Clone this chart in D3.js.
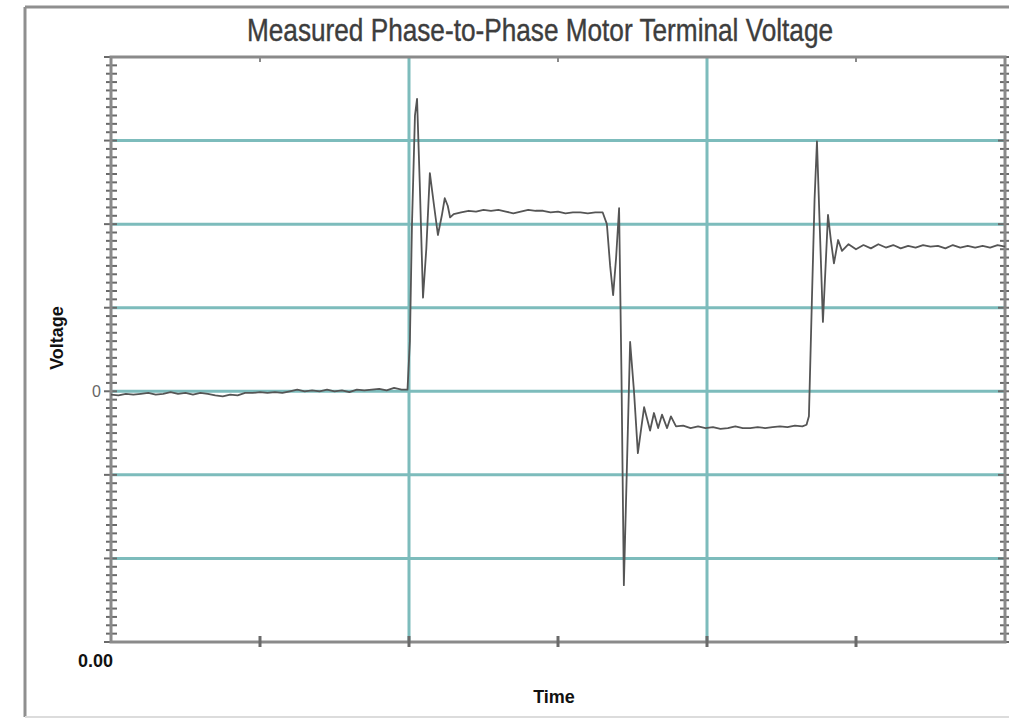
<!DOCTYPE html>
<html>
<head>
<meta charset="utf-8">
<script src="https://cdn.jsdelivr.net/npm/d3@7"></script>
<style>
  body { margin: 0; background: #fff; }
  svg { display: block; }
</style>
</head>
<body>
<div id="chart"></div>
<script>
// Time (arbitrary units, 0-300) and phase-to-phase voltage (V, 100 V per grid division)
const time = [
  0, 2.5, 5, 7.5, 10, 12.5, 15, 17.5, 20, 22.5, 25, 27.5, 30, 32.5, 35, 37.5, 40, 42.5, 45, 47.5,
  50, 52.5, 55, 57.5, 60, 62.5, 65, 67.5, 70, 72.5, 75, 77.5, 80, 82.5, 85, 87.5, 90, 92.5, 95, 97.5, 99.5,
  100.3, 101, 102, 102.7, 103.6, 104.7, 105.8, 107, 108.3, 109.7, 111, 112, 113, 113.8,
  115, 117.5, 120, 122.5, 125, 127.5, 130, 132.5, 135, 137.5, 140, 142.5, 145, 147.5, 150, 152.5, 155, 157.5, 160, 162.5, 165,
  166.4, 167.5, 168.5, 169.5, 170.5, 171.3, 172.1, 173.2, 174.2, 175.5, 176.8, 177.9, 178.9,
  180.9, 182.2, 183.6, 184.9, 186.6, 187.9, 189.6,
  192, 194.5, 197, 199.5, 202, 204.5, 207, 209.5, 212, 214.5, 217, 219.5, 222, 224.5, 227, 229.5, 232, 233.4,
  234.2, 235.2, 236.1, 236.9, 237.9, 238.9, 239.8, 240.6, 241.6, 242.6, 244, 245.3,
  247.5, 250, 252.5, 255, 257.5, 260, 262.5, 265, 267.5, 270, 272.5, 275, 277.5, 280, 282.5, 285, 287.5, 290, 292.5, 295, 297.5, 300
];
const voltage = [
  -4, -5, -3, -4, -3, -2, -4, -3, -1, -3, -2, -4, -2, -3, -5, -6, -4, -5, -2, -2,
  -1, -2, -1, -2, 0, 2, 0, 1, 0, 2, 0, 1, -1, 2, 1, 2, 3, 1, 4, 2, 2,
  60, 200, 330, 350, 250, 112, 170, 261, 225, 187, 210, 231, 222, 208,
  212, 214, 216, 215, 217, 216, 217, 215, 213, 215, 217, 216, 216, 214, 215, 213, 214, 214, 213, 214, 214,
  200, 150, 115, 160, 219, 20, -232, -80, 59, 0, -74, -45, -19,
  -47, -26, -44, -28, -44, -30, -42,
  -41, -44, -42, -44, -43, -45, -44, -42, -44, -44, -43, -44, -43, -42, -43, -41, -42, -40,
  -30, 109, 230, 299, 190, 83, 150, 211, 180, 153, 181, 168,
  176, 170, 175, 171, 176, 172, 175, 171, 174, 172, 175, 173, 174, 171, 175, 172, 174, 172, 174, 172, 175, 173
];
const yGrid = [-200, -100, 0, 100, 200, 300];
const xGrid = [100, 200];
const xTicks = [50, 100, 150, 200, 250];
const xTopTicks = [50, 150, 250];
const yMinor = d3.range(-300, 401, 10);

const W = 1009, H = 721;
const plot = {left: 111, top: 57, right: 1005, bottom: 642};

const svg = d3.select("#chart").append("svg")
    .attr("width", W)
    .attr("height", H);

// outer frame
svg.append("line").attr("x1", 25).attr("y1", 7).attr("x2", 25).attr("y2", 717)
    .attr("stroke", "#8f8f8f").attr("stroke-width", 3);
svg.append("line").attr("x1", 25).attr("y1", 7).attr("x2", W).attr("y2", 7)
    .attr("stroke", "#8f8f8f").attr("stroke-width", 3);
svg.append("line").attr("x1", 25).attr("y1", 717).attr("x2", W).attr("y2", 717)
    .attr("stroke", "#dcdcdc").attr("stroke-width", 2);

const xScale = d3.scaleLinear().domain([0, 300]).range([plot.left, plot.right]);
const yScale = d3.scaleLinear().domain([-300, 400]).range([plot.bottom, plot.top]);

// grid
svg.append("g").selectAll("line")
    .data(yGrid)
    .enter().append("line")
        .attr("x1", plot.left)
        .attr("x2", plot.right)
        .attr("y1", d => yScale(d))
        .attr("y2", d => yScale(d))
        .attr("stroke", "#7dbcbc")
        .attr("stroke-width", 3);
svg.append("g").selectAll("line")
    .data(xGrid)
    .enter().append("line")
        .attr("x1", d => xScale(d))
        .attr("x2", d => xScale(d))
        .attr("y1", plot.top)
        .attr("y2", plot.bottom)
        .attr("stroke", "#7dbcbc")
        .attr("stroke-width", 3);

// minor ticks, left and right
[plot.left, plot.right].forEach(function(x0) {
    svg.append("g").selectAll("line")
        .data(yMinor)
        .enter().append("line")
            .attr("x1", d => d % 100 === 0 ? x0 - 7 : x0 - 5)
            .attr("x2", x0 + 6)
            .attr("y1", d => yScale(d))
            .attr("y2", d => yScale(d))
            .attr("stroke", "#6a6a6a")
            .attr("stroke-width", 2);
});

// plot frame
svg.append("rect")
    .attr("x", plot.left)
    .attr("y", plot.top)
    .attr("width", plot.right - plot.left)
    .attr("height", plot.bottom - plot.top)
    .attr("fill", "none")
    .attr("stroke", "#8a8a8a")
    .attr("stroke-width", 3);

// x ticks
svg.append("g").selectAll("line")
    .data(xTicks)
    .enter().append("line")
        .attr("x1", d => xScale(d))
        .attr("x2", d => xScale(d))
        .attr("y1", plot.bottom - 6)
        .attr("y2", plot.bottom + 5)
        .attr("stroke", "#6a6a6a")
        .attr("stroke-width", 3);
svg.append("g").selectAll("line")
    .data(xTopTicks)
    .enter().append("line")
        .attr("x1", d => xScale(d))
        .attr("x2", d => xScale(d))
        .attr("y1", plot.top)
        .attr("y2", plot.top + 5)
        .attr("stroke", "#8a8a8a")
        .attr("stroke-width", 2);

// waveform
const points = time.map((t, i) => [t, voltage[i]]);
const line = d3.line()
    .x(d => xScale(d[0]))
    .y(d => yScale(d[1]));
svg.append("path")
    .attr("d", line(points))
    .attr("fill", "none")
    .attr("stroke", "#555")
    .attr("stroke-width", 1.8)
    .attr("stroke-linejoin", "round");

// texts
svg.append("text")
    .attr("transform", "translate(540,41) scale(0.845,1)")
    .attr("text-anchor", "middle")
    .attr("font-family", "'Liberation Sans', Arial, sans-serif")
    .attr("font-size", "31px")
    .attr("fill", "#3d3d3d")
    .attr("stroke", "#3d3d3d")
    .attr("stroke-width", 0.4)
    .text("Measured Phase-to-Phase Motor Terminal Voltage");

svg.append("text")
    .attr("transform", "translate(63,338) rotate(-90)")
    .attr("text-anchor", "middle")
    .attr("font-family", "'Liberation Sans', Arial, sans-serif")
    .attr("font-weight", "bold")
    .attr("font-size", "18px")
    .attr("fill", "#111")
    .text("Voltage");

svg.append("text")
    .attr("x", 554)
    .attr("y", 703)
    .attr("text-anchor", "middle")
    .attr("font-family", "'Liberation Sans', Arial, sans-serif")
    .attr("font-weight", "bold")
    .attr("font-size", "18px")
    .attr("fill", "#111")
    .text("Time");

svg.append("text")
    .attr("x", 113)
    .attr("y", 667)
    .attr("text-anchor", "end")
    .attr("font-family", "'Liberation Sans', Arial, sans-serif")
    .attr("font-weight", "bold")
    .attr("font-size", "18px")
    .attr("fill", "#111")
    .text("0.00");

svg.append("text")
    .attr("x", 101)
    .attr("y", yScale(0) + 6)
    .attr("text-anchor", "end")
    .attr("font-family", "'Liberation Sans', Arial, sans-serif")
    .attr("font-size", "16px")
    .attr("fill", "#666")
    .text("0");
</script>
</body>
</html>
